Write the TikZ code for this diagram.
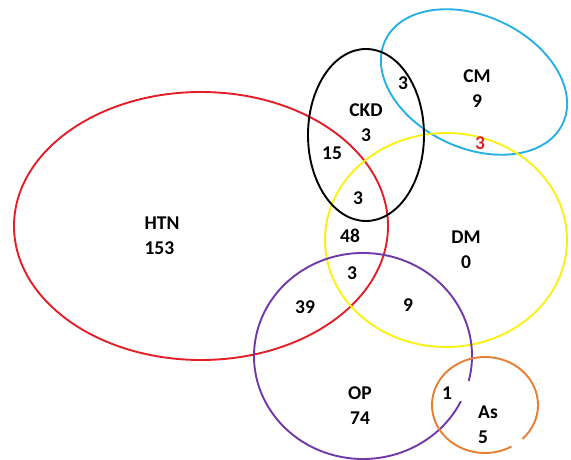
\documentclass[tikz,border=0pt]{standalone}
\usepackage{fontspec}
\setmainfont{Carlito}
\definecolor{htnred}{RGB}{228,30,38}
\definecolor{cmblue}{RGB}{38,176,228}
\definecolor{dmyellow}{RGB}{250,240,20}
\definecolor{oppurple}{RGB}{112,56,168}
\definecolor{asorange}{RGB}{232,126,52}
\tikzset{
  setline/.style={line width=1.9pt},
  count/.style={font=\bfseries\fontsize{19.5}{25}\selectfont, align=center, inner sep=0pt},
}
\begin{document}
\begin{tikzpicture}[x=1pt,y=1pt]
    \useasboundingbox (0,0) rectangle (571,460);

    % Sets
    \draw[setline, htnred] (201,234) ellipse [x radius=187pt, y radius=134pt];
    \draw[setline, cmblue, rotate around={-25:(474,378)}] (474,378) ellipse [x radius=98pt, y radius=66pt];
    \draw[setline, dmyellow] (446,220) ellipse [x radius=121pt, y radius=107pt];
    \draw[setline, black] (366,325) ellipse [x radius=58pt, y radius=86pt];
    \draw[setline, oppurple] (363,104) ++(-14:109pt and 103pt)
        arc [start angle=-14, end angle=334, x radius=109pt, y radius=103pt];
    \draw[setline, asorange] (485,55) ++(-45:53pt and 48pt)
        arc [start angle=-45, end angle=300, x radius=53pt, y radius=48pt];

    % Set names and counts
    \node[count, align=left] (htn) at (162,224) {HTN\\153};
    \node[count] (ckd) at (366,337) {CKD\\3};
    \node[count] (cm) at (477,371) {CM\\9};
    \node[count] (dm) at (466,210) {DM\\0};
    \node[count] (op) at (360,54) {OP\\74};
    \node[count, align=left] (as) at (488,35) {As\\5};

    % Overlaps
    \node[count] (ckdcm) at (403,377) {3};
    \node[count, text=htnred] (cmdm) at (480,317) {3};
    \node[count] (htnckd) at (332,307) {15};
    \node[count] (htnckddm) at (358,262) {3};
    \node[count] (htndm) at (350,224) {48};
    \node[count] (htndmop) at (352,187) {3};
    \node[count] (htnop) at (305,153) {39};
    \node[count] (dmop) at (408,155) {9};
    \node[count] (opas) at (447,67) {1};
\end{tikzpicture}
\end{document}
